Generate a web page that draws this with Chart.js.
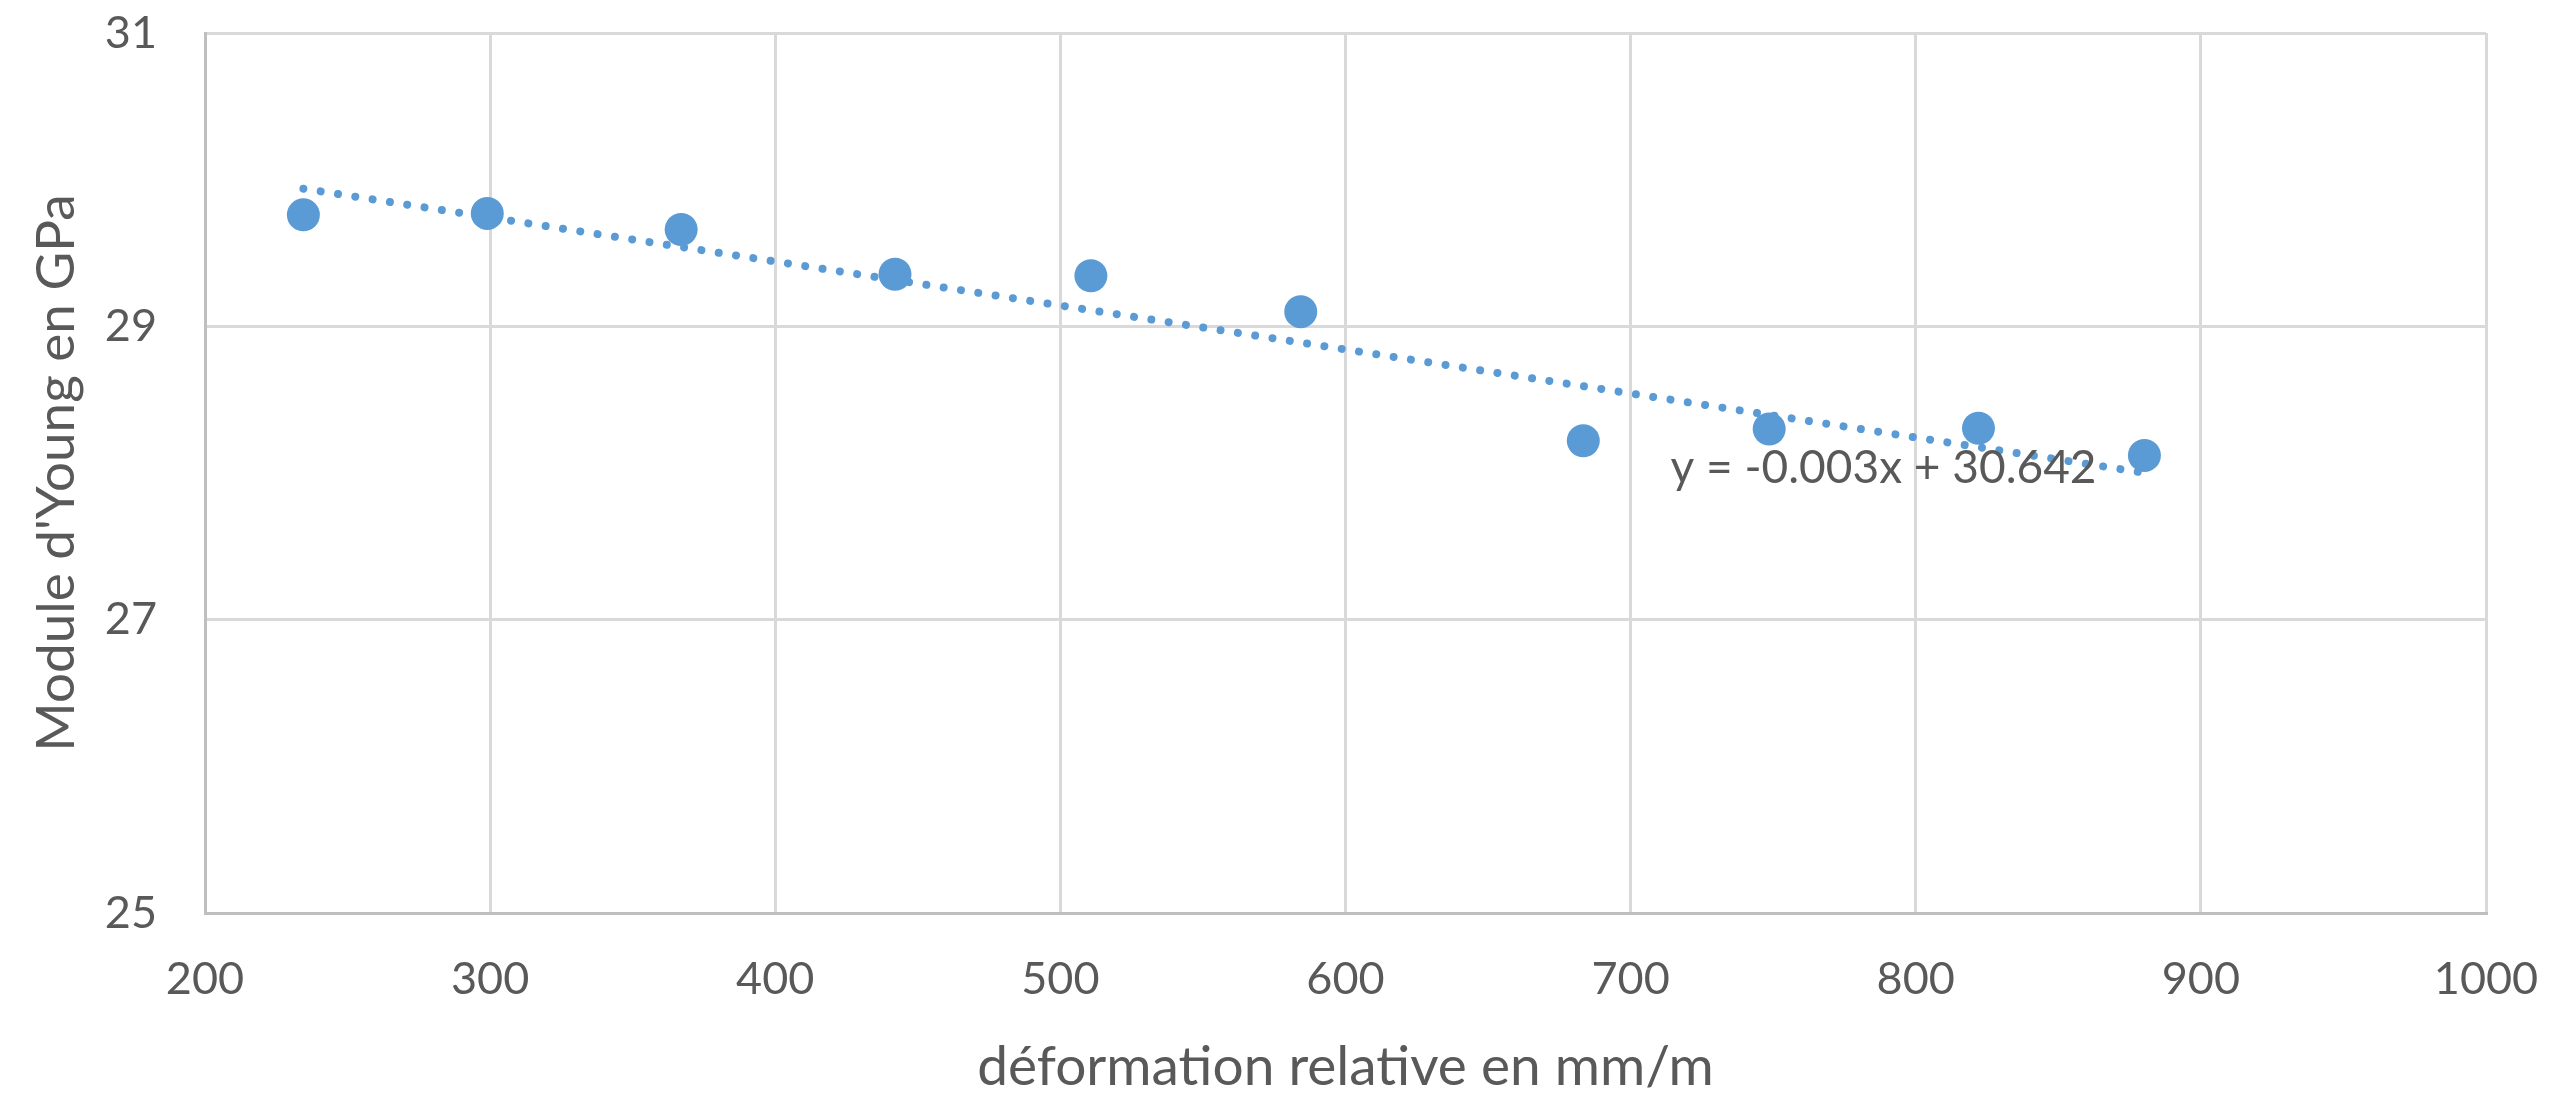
<!DOCTYPE html>
<html>
<head>
    <title>Module d'Young</title>
    <script src="https://cdn.jsdelivr.net/npm/chart.js@4.4.0/dist/chart.umd.min.js"></script>
    <style>
        html, body {
            margin: 0;
            padding: 0;
            background: #ffffff;
        }
        #wrap {
            width: 2570px;
            height: 1096px;
        }
    </style>
</head>
<body>
    <div id="wrap"><canvas id="chart" width="2570" height="1096"></canvas></div>

    <script>
        // measured points
        const deformation = [234.5, 299, 367, 442, 510.7, 584.3, 683.4, 748.6, 822, 880.2];
        const moduleYoung = [29.76, 29.77, 29.66, 29.355, 29.345, 29.10, 28.22, 28.30, 28.305, 28.12];

        // linear trend y = a*x + b
        const trendSlope = -0.003;
        const trendIntercept = 30.642;
        const trendLabel = 'y = -0.003x + 30.642';
        const trendLabelAt = [714, 28.03];

        const xTicks = [200, 300, 400, 500, 600, 700, 800, 900, 1000];
        const yTicks = [25, 27, 29, 31];

        const blue = '#5B9BD5';
        const textGrey = '#595959';
        const gridGrey = '#D9D9D9';
        const axisGrey = '#BFBFBF';
        const fontFamily = 'Lato, "Open Sans", sans-serif';

        const points = deformation.map((x, i) => ({ x: x, y: moduleYoung[i] }));
        const xMin = Math.min(...deformation);
        const xMax = Math.max(...deformation);
        const trendPoints = [xMin, xMax].map(x => ({ x: x, y: trendSlope * x + trendIntercept }));

        const equationPlugin = {
            id: 'equation',
            afterDatasetsDraw(chart) {
                const c = chart.ctx;
                const px = chart.scales.x.getPixelForValue(trendLabelAt[0]);
                const py = chart.scales.y.getPixelForValue(trendLabelAt[1]);
                c.save();
                c.font = '46px ' + fontFamily;
                c.fillStyle = textGrey;
                c.textAlign = 'left';
                c.textBaseline = 'middle';
                c.fillText(trendLabel, px, py);
                c.restore();
            }
        };

        new Chart(document.getElementById('chart'), {
            type: 'scatter',
            data: {
                datasets: [
                    {
                        type: 'line',
                        label: 'Linéaire',
                        data: trendPoints,
                        borderColor: blue,
                        borderWidth: 8,
                        borderDash: [0.01, 17.5],
                        borderCapStyle: 'round',
                        pointRadius: 0,
                        fill: false
                    },
                    {
                        label: "Module d'Young",
                        data: points,
                        backgroundColor: blue,
                        borderWidth: 0,
                        pointRadius: 16.5,
                        pointHoverRadius: 16.5
                    }
                ]
            },
            options: {
                responsive: false,
                animation: false,
                layout: {
                    padding: { top: 33, right: 84, bottom: 0, left: 0 }
                },
                plugins: {
                    legend: { display: false },
                    tooltip: { enabled: false }
                },
                scales: {
                    x: {
                        type: 'linear',
                        min: 200,
                        max: 1000,
                        afterBuildTicks: s => { s.ticks = xTicks.map(v => ({ value: v })); },
                        afterFit: s => {
                            s.height = 183;
                            s.paddingLeft = 0;
                            s.paddingRight = 0;
                        },
                        grid: { color: gridGrey, lineWidth: 3, drawTicks: false },
                        border: { color: axisGrey, width: 3 },
                        ticks: {
                            color: textGrey,
                            font: { family: fontFamily, size: 45 },
                            padding: 39,
                            maxRotation: 0,
                            callback: v => String(v)
                        },
                        title: {
                            display: true,
                            text: 'déformation relative en mm/m',
                            color: textGrey,
                            font: { family: fontFamily, size: 55 },
                            padding: { top: 0, bottom: -4 }
                        }
                    },
                    y: {
                        type: 'linear',
                        min: 25,
                        max: 31,
                        afterBuildTicks: s => { s.ticks = yTicks.map(v => ({ value: v })); },
                        afterFit: s => {
                            s.width = 205;
                            s.paddingTop = 0;
                            s.paddingBottom = 0;
                        },
                        grid: { color: gridGrey, lineWidth: 3, drawTicks: false },
                        border: { color: axisGrey, width: 3 },
                        ticks: {
                            color: textGrey,
                            font: { family: fontFamily, size: 45 },
                            padding: 48,
                            callback: v => String(v)
                        },
                        title: {
                            display: true,
                            text: "Module d'Young en GPa",
                            color: textGrey,
                            font: { family: fontFamily, size: 53 },
                            padding: { top: 25, bottom: 0 }
                        }
                    }
                }
            },
            plugins: [equationPlugin]
        });
    </script>
</body>
</html>
